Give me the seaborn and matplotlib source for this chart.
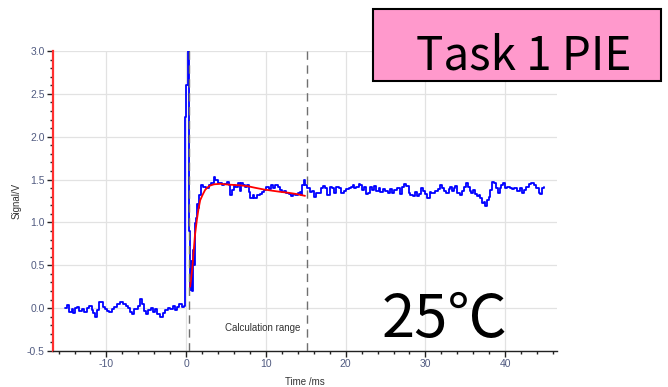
import numpy as np
import pandas as pd
import matplotlib
matplotlib.use("Agg")
import matplotlib.pyplot as plt
import seaborn as sns
from matplotlib.patches import Rectangle
from matplotlib.ticker import MultipleLocator, FormatStrFormatter

# --- values (time in ms, signal in V) ---
# pre-trigger baseline
base_t = [-15.18, -14.89, -14.64, -14.35, -14.14, -13.93, -13.64, -13.38, -13.09, -12.80,
          -12.46, -12.13, -11.84, -11.63, -11.38, -11.13, -10.87, -10.58, -10.37, -10.16,
          -9.95, -9.62, -9.32, -9.03, -8.70, -8.28, -7.86, -7.53, -7.24, -7.03,
          -6.82, -6.52, -6.10, -5.77, -5.52, -5.27, -5.02, -4.73, -4.43, -4.18,
          -3.89, -3.60, -3.26, -2.93, -2.64, -2.34, -2.01, -1.67, -1.38, -1.09,
          -0.84, -0.54, -0.25]
base_v = [-0.004, 0.035, -0.043, -0.012, -0.062, -0.004, 0.016, -0.035, -0.012, -0.043,
          0.004, 0.027, -0.023, -0.062, -0.109, -0.023, 0.074, 0.066, 0.016, -0.012,
          -0.035, -0.050, -0.012, 0.016, 0.043, 0.066, 0.043, 0.027, -0.004, -0.043,
          -0.074, -0.012, 0.027, 0.105, 0.054, -0.035, -0.074, -0.023, 0.004, -0.050,
          -0.012, -0.074, -0.101, -0.062, -0.023, -0.004, -0.012, 0.027, -0.023, 0.016,
          0.054, 0.016, 0.027]

# trigger spike and recovery
rise_t = [-0.12, 0.0, 0.25, 0.40, 0.50, 0.60, 0.70, 0.80, 0.95, 1.05, 1.20, 1.30, 1.45]
rise_v = [2.23, 2.60, 3.30, 0.90, 0.21, 0.55, 0.20, 0.68, 0.50, 0.99, 1.05, 1.22, 1.17]

# plateau inside calculation range
plat1_t = [1.55, 1.84, 2.17, 2.51, 2.80, 3.09, 3.43, 3.64, 3.93, 4.18,
           4.48, 4.77, 5.10, 5.31, 5.52, 5.73, 5.94, 6.15, 6.44, 6.69,
           6.86, 7.11, 7.40, 7.61, 7.82, 8.03, 8.32, 8.53, 8.87, 9.20,
           9.50, 9.79, 10.04, 10.33, 10.62, 10.88, 11.17, 11.46, 11.71, 12.01,
           12.30, 12.55, 12.84, 13.14, 13.39, 13.68, 13.97, 14.22, 14.39, 14.56]
plat1_v = [1.319, 1.435, 1.416, 1.396, 1.435, 1.455, 1.525, 1.494, 1.455, 1.462,
           1.435, 1.447, 1.474, 1.435, 1.319, 1.377, 1.435, 1.416, 1.455, 1.369,
           1.455, 1.435, 1.416, 1.435, 1.357, 1.280, 1.319, 1.280, 1.319, 1.330,
           1.357, 1.377, 1.416, 1.385, 1.435, 1.396, 1.435, 1.416, 1.377, 1.357,
           1.369, 1.346, 1.330, 1.307, 1.330, 1.319, 1.338, 1.357, 1.319, 1.435]

# after calculation range, 15-30 ms
plat2_t = [14.72, 14.93, 15.14, 15.47, 15.77, 16.07, 16.31, 16.60, 16.90, 17.15,
           17.44, 17.65, 17.98, 18.28, 18.49, 18.82, 19.11, 19.41, 19.74, 20.08,
           20.37, 20.66, 20.91, 21.08, 21.33, 21.62, 21.83, 22.04, 22.25, 22.50,
           22.75, 23.00, 23.30, 23.50, 23.84, 24.13, 24.34, 24.68, 24.97, 25.26,
           25.51, 25.80, 26.10, 26.43, 26.77, 27.06, 27.27, 27.60, 27.90, 28.11,
           28.44, 28.73, 28.94, 29.15, 29.45, 29.70, 29.99, 30.20, 30.53]
plat2_v = [1.494, 1.435, 1.400, 1.357, 1.369, 1.300, 1.338, 1.346, 1.396, 1.424,
           1.396, 1.319, 1.408, 1.396, 1.338, 1.416, 1.396, 1.338, 1.369, 1.385,
           1.396, 1.416, 1.435, 1.396, 1.408, 1.447, 1.435, 1.377, 1.408, 1.330,
           1.346, 1.416, 1.377, 1.424, 1.369, 1.396, 1.357, 1.385, 1.369, 1.338,
           1.385, 1.346, 1.377, 1.396, 1.330, 1.416, 1.447, 1.424, 1.338, 1.319,
           1.307, 1.357, 1.307, 1.330, 1.396, 1.369, 1.330, 1.280, 1.357]

# 30-45 ms
plat3_t = [30.70, 31.03, 31.24, 31.54, 31.79, 32.08, 32.37, 32.62, 32.92, 33.13,
           33.33, 33.54, 33.75, 33.96, 34.30, 34.59, 34.80, 35.05, 35.30, 35.55,
           35.72, 35.97, 36.26, 36.47, 36.68, 36.89, 37.14, 37.31, 37.52, 37.72,
           37.93, 38.14, 38.35, 38.56, 38.81, 39.06, 39.31, 39.52, 39.73, 39.98,
           40.24, 40.57, 40.86, 41.16, 41.49, 41.83, 42.08, 42.33, 42.66, 42.95,
           43.25, 43.58, 43.92, 44.21, 44.42, 44.67, 44.84]
plat3_v = [1.346, 1.338, 1.369, 1.385, 1.435, 1.396, 1.369, 1.338, 1.385, 1.408,
           1.369, 1.396, 1.424, 1.338, 1.319, 1.369, 1.408, 1.455, 1.416, 1.369,
           1.338, 1.377, 1.330, 1.307, 1.319, 1.280, 1.229, 1.241, 1.190, 1.260,
           1.299, 1.377, 1.474, 1.455, 1.396, 1.338, 1.396, 1.435, 1.455, 1.396,
           1.408, 1.396, 1.385, 1.396, 1.369, 1.396, 1.346, 1.377, 1.408, 1.447,
           1.455, 1.435, 1.396, 1.338, 1.330, 1.396, 1.408]

# red fitted curve
fit_t = [0.50, 0.75, 0.92, 1.10, 1.34, 1.55, 1.76, 2.10, 2.38, 2.70,
         3.00, 3.50, 4.27, 5.50, 6.40, 7.60, 8.60, 9.70, 10.80, 11.80,
         12.90, 13.90, 14.90]
fit_v = [0.25, 0.45, 0.64, 0.85, 1.03, 1.16, 1.26, 1.33, 1.38, 1.41,
         1.43, 1.445, 1.45, 1.44, 1.435, 1.425, 1.405, 1.385, 1.37, 1.357,
         1.345, 1.33, 1.31]

# calculation range cursors
cursor_t = [0.4, 15.1]

signal = pd.DataFrame({
    "t": base_t + rise_t + plat1_t + plat2_t + plat3_t,
    "v": base_v + rise_v + plat1_v + plat2_v + plat3_v,
})
fit = pd.DataFrame({"t": fit_t, "v": fit_v})

sns.set_theme(style="whitegrid")
plt.rcParams["font.family"] = ["Liberation Sans", "DejaVu Sans"]
plt.rcParams["axes.unicode_minus"] = False

W, H = 668, 387
fig = plt.figure(figsize=(W / 100, H / 100), dpi=100)
ax = fig.add_axes([53 / W, 1 - 351 / H, 504 / W, 300 / H])

sns.lineplot(data=signal, x="t", y="v", color="#0000ff", lw=1.3,
             drawstyle="steps-post", estimator=None, sort=False, ax=ax)
sns.lineplot(data=fit, x="t", y="v", color="#ff0000", lw=1.3,
             estimator=None, sort=False, ax=ax)
for c in cursor_t:
    ax.axvline(c, color="#707070", lw=1.0, ls=(0, (6, 4)), zorder=3)

ax.text(4.9, -0.23, "Calculation range", fontsize=7, color="#333333", va="center")

ax.set_xlim(-16.7, 46.5)
ax.set_ylim(-0.5, 3.0)
ax.xaxis.set_major_locator(MultipleLocator(10))
ax.xaxis.set_minor_locator(MultipleLocator(2))
ax.yaxis.set_major_locator(MultipleLocator(0.5))
ax.yaxis.set_minor_locator(MultipleLocator(0.1))
ax.yaxis.set_major_formatter(FormatStrFormatter("%.1f"))

ax.grid(True, which="major", color="#e2e2e2", lw=0.9)
ax.grid(False, which="minor")
ax.set_axisbelow(True)
ax.set_facecolor("white")

for s in ["top", "right"]:
    ax.spines[s].set_visible(False)
ax.spines["left"].set_color("#ff3030")
ax.spines["left"].set_linewidth(1.6)
ax.spines["bottom"].set_color("#222222")
ax.spines["bottom"].set_linewidth(1.0)

ax.tick_params(axis="both", which="major", direction="out", length=4, width=1,
               color="#222222", labelsize=7.5, labelcolor="#505a80",
               bottom=True, left=True, pad=2)
ax.tick_params(axis="both", which="minor", direction="out", length=2.5, width=1,
               color="#222222", bottom=True, left=True)

ax.set_xlabel("Time /ms", fontsize=7, color="#333333")
ax.set_ylabel("Signal/V", fontsize=7, color="#333333")
ax.xaxis.set_label_coords(0.5, -0.087)
ax.yaxis.set_label_coords(-0.062, 0.5)

# overlay annotations
cjk = ["Noto Sans CJK JP", "DejaVu Sans"]
fig.patches.append(Rectangle((373 / W, 1 - 81 / H), 288 / W, 72 / H,
                             transform=fig.transFigure, facecolor="#ff99cc",
                             edgecolor="black", lw=1.5, zorder=5))
fig.text(524 / W, 1 - 70 / H, "Task 1 PIE", ha="center", va="baseline",
         fontsize=33, family=cjk, color="black", zorder=6)
fig.text(382 / W, 1 - 337 / H, "25℃", ha="left", va="baseline",
         fontsize=43, family=cjk, color="black", zorder=6)

fig.savefig("out.png", dpi=100)
